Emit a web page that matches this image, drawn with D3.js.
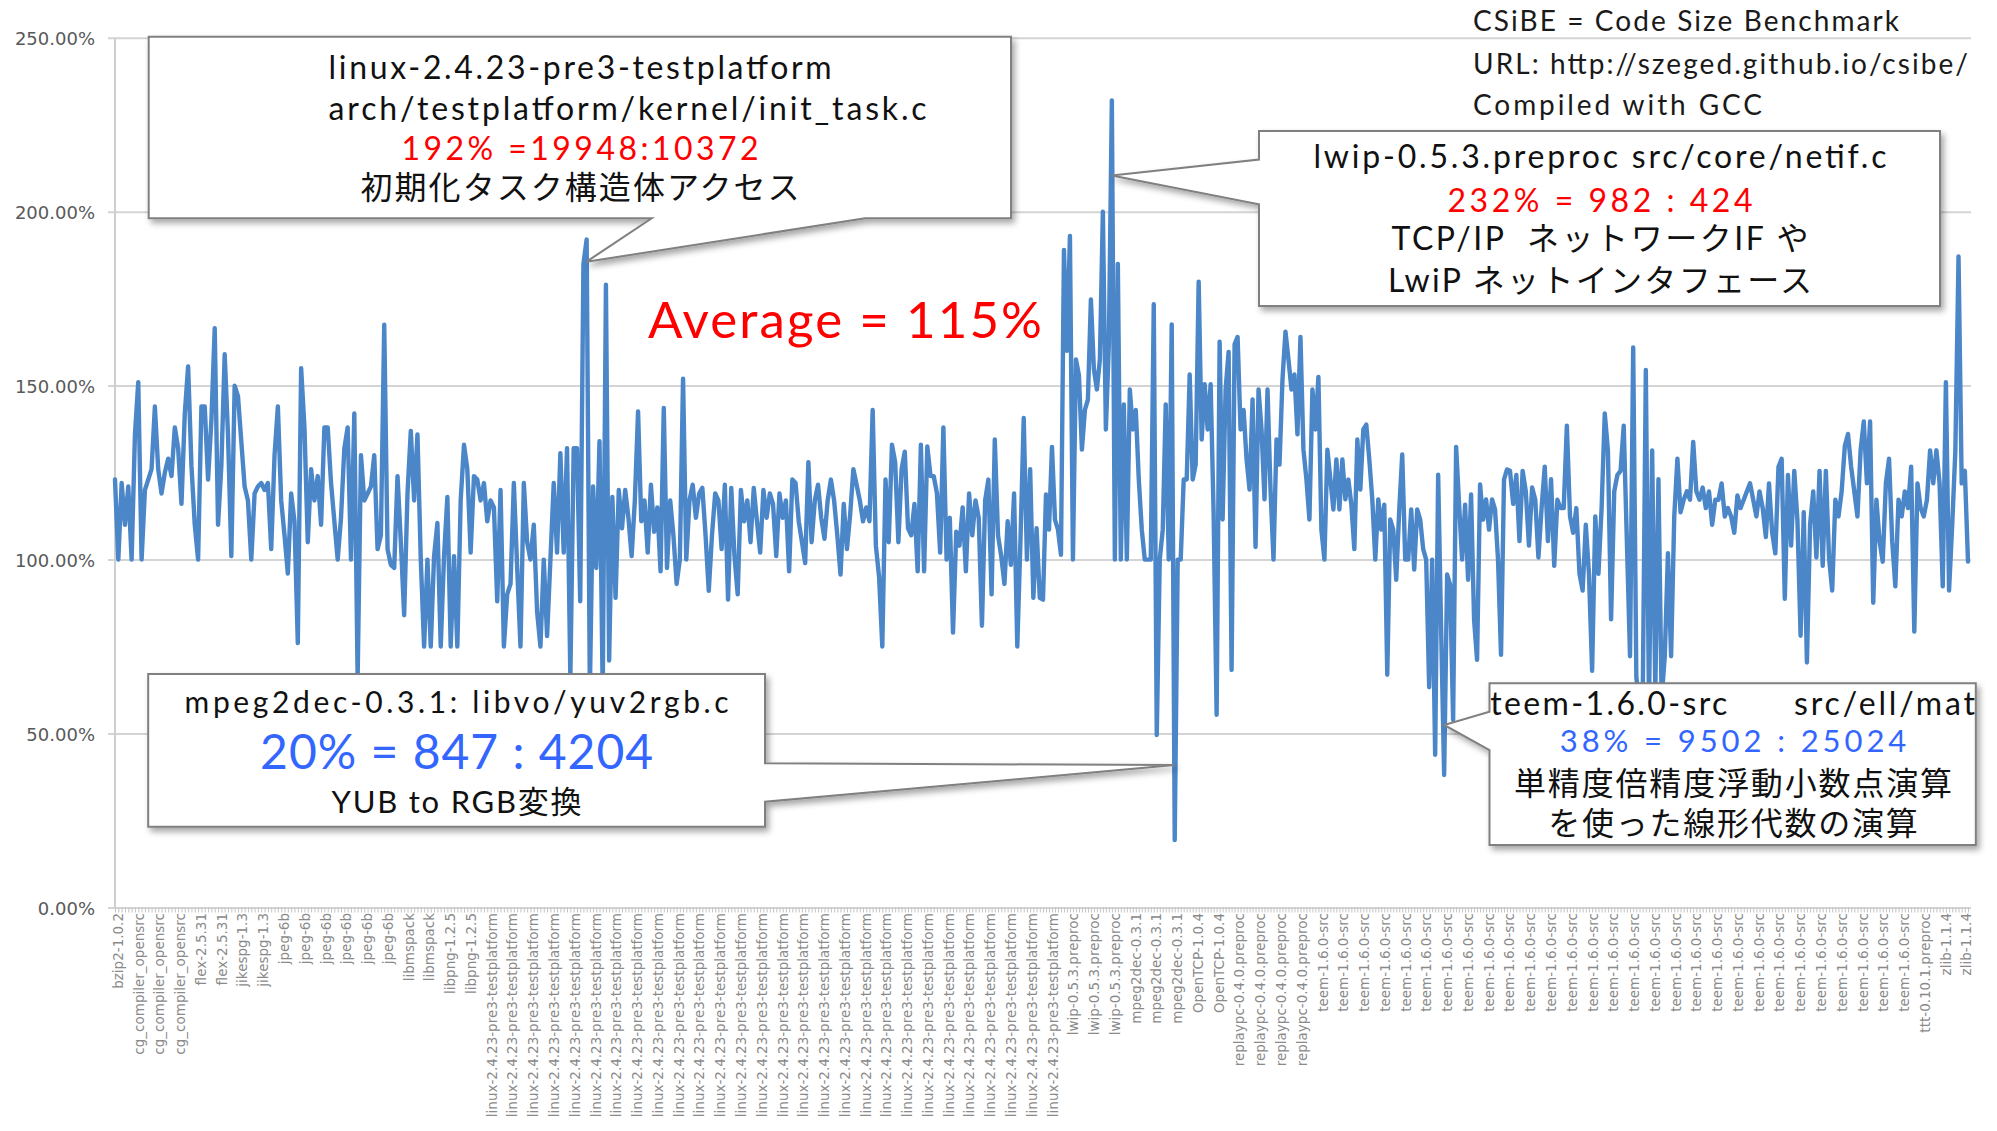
<!DOCTYPE html>
<html><head><meta charset="utf-8">
<script src="https://cdn.jsdelivr.net/npm/d3@7"></script>
<style>body{margin:0;background:#fff;} svg{display:block;} text{white-space:pre;}</style>
</head><body>
<svg id="chart" width="1997" height="1131"></svg>
<script>
// ---------------- DATA ----------------
const yTicks = [0, 50, 100, 150, 200, 250];
const yTickLabels = ["0.00%", "50.00%", "100.00%", "150.00%", "200.00%", "250.00%"];

const xLabels = [
  "bzip2-1.0.2",
  "cg_compiler_opensrc","cg_compiler_opensrc","cg_compiler_opensrc",
  "flex-2.5.31","flex-2.5.31",
  "jikespg-1.3","jikespg-1.3",
  "jpeg-6b","jpeg-6b","jpeg-6b","jpeg-6b","jpeg-6b","jpeg-6b",
  "libmspack","libmspack",
  "libpng-1.2.5","libpng-1.2.5",
  "linux-2.4.23-pre3-testplatform","linux-2.4.23-pre3-testplatform","linux-2.4.23-pre3-testplatform","linux-2.4.23-pre3-testplatform",
  "linux-2.4.23-pre3-testplatform","linux-2.4.23-pre3-testplatform","linux-2.4.23-pre3-testplatform","linux-2.4.23-pre3-testplatform",
  "linux-2.4.23-pre3-testplatform","linux-2.4.23-pre3-testplatform","linux-2.4.23-pre3-testplatform","linux-2.4.23-pre3-testplatform",
  "linux-2.4.23-pre3-testplatform","linux-2.4.23-pre3-testplatform","linux-2.4.23-pre3-testplatform","linux-2.4.23-pre3-testplatform",
  "linux-2.4.23-pre3-testplatform","linux-2.4.23-pre3-testplatform","linux-2.4.23-pre3-testplatform","linux-2.4.23-pre3-testplatform",
  "linux-2.4.23-pre3-testplatform","linux-2.4.23-pre3-testplatform","linux-2.4.23-pre3-testplatform","linux-2.4.23-pre3-testplatform",
  "linux-2.4.23-pre3-testplatform","linux-2.4.23-pre3-testplatform","linux-2.4.23-pre3-testplatform","linux-2.4.23-pre3-testplatform",
  "lwip-0.5.3.preproc","lwip-0.5.3.preproc","lwip-0.5.3.preproc",
  "mpeg2dec-0.3.1","mpeg2dec-0.3.1","mpeg2dec-0.3.1",
  "OpenTCP-1.0.4","OpenTCP-1.0.4",
  "replaypc-0.4.0.preproc","replaypc-0.4.0.preproc","replaypc-0.4.0.preproc","replaypc-0.4.0.preproc",
  "teem-1.6.0-src","teem-1.6.0-src","teem-1.6.0-src","teem-1.6.0-src","teem-1.6.0-src","teem-1.6.0-src",
  "teem-1.6.0-src","teem-1.6.0-src","teem-1.6.0-src","teem-1.6.0-src","teem-1.6.0-src","teem-1.6.0-src",
  "teem-1.6.0-src","teem-1.6.0-src","teem-1.6.0-src","teem-1.6.0-src","teem-1.6.0-src","teem-1.6.0-src",
  "teem-1.6.0-src","teem-1.6.0-src","teem-1.6.0-src","teem-1.6.0-src","teem-1.6.0-src","teem-1.6.0-src",
  "teem-1.6.0-src","teem-1.6.0-src","teem-1.6.0-src","teem-1.6.0-src","teem-1.6.0-src",
  "ttt-0.10.1.preproc",
  "zlib-1.1.4","zlib-1.1.4"
];

// Size ratio (%) per file, in four stretches
const seriesA = [123,100,122,110,121,100,136,151,100,120,
  123,126,144,126,119,125,129,124,138,132,
  116,142,155.5,127,110,100,144,144,123,140,
  166.5,110,127,159,136,101,150,147,134,121,
  117,100,119,121,122,120,122,103,130,144,
  117,107,96,119,111,76,155,138,105,126,
  117,124,110,138,138,122,111,100,112,132,
  138,100,142,66,130,117,119,121,130,103,
  107,167.5,103,98.5,97.6,124,105,84,119,137,
  117,136,100,75,100,75,101,110.5,75,101,
  118,75,101,75,117,133,126,102,124,123,
  117,122,111,117,115,88,120,75,90,93,
  122,97.6,75,122,105,100,110,85,75,100,
  78,100,122,102,130.6,102,132,66,132];
const seriesB = [132,88,185,192,62,121,97.6,134,62,179,
  71,118,89,120,109,120,112,101,117,142.6,
  111,117,102,121.5,108,115,96.6,143.6,97.6,117,
  107,93,100,152,100,117,121.5,112,119,120.6,
  107,91,107,119,117,103,121.5,88.5,120.6,101,
  90,120,111,117,105,120.6,111,102,120,112,
  119,116,101,119,112,117,96.6,123,122,111,
  105,99,128,105,117,121.5,112,106,117,123,
  117,107,95.7,116,103,113,126,121.5,117,111,
  115,111,143,104,95,75,123,105,133,128,
  105,126,131,109,107,116,96.6,133,96.6,132.5,
  124,124,119,102,138,100,112,79,108,104,
  115,96.6,119,107,117,112,81,117,123,90,
  134.5,107,101,93,111,98.5,119,75,106,140.7,
  100,126,89,109,89];
const seriesC = [88.5,118.7,108.6,132.4,111.5,108.6,101.4,189,160,193,
  100,157.5,153,131.6,143,146,174.8,154.7,148.9,157.5,
  200,137.4,161.9,232,100,185,100,144.6,100,148.9,
  137.4,143,123,108.6,100,100,100,173.4,49.6,100,
  108.6,144.6,100,167.6,19.4,100,100,123,123,153.2,
  123,127.3,179.9,134.5,150.4,137.4,150.4,113,55.4,162.6,
  111.5,148.9,159.7,68.3,161.9,164,137.4,143,128.8,120.1,
  146,103.6,148.9,137.4,117.3,148.9,120.1,100,134.5,127.3,
  151.8,165.5,157.5,148.9,153.2,136,164,131.6,123,111.5,
  148.9,137.4,152.5,108.6,100,131.6,123,114.4,128.8,114.4,
  128.8,117.3,123,115.8,103,134.5,120.1,137.4,138.8,128.8,
  117.3,100,117.3,108.6,115.8,66.9,111.5,108.6,94.2,114.4,
  130.2,100,100,114.4,97.1,114.4,111.5,103,100,63.3,
  100,43.9,124.4,79.8,38.1,95.7,92.8,53.9,132.4,115.8,
  100,115.8,94.2,118.7,82.7,71.2,121.6,111.5,117.3,108.6,
  117.3,114.4,100,72.6,123,125.9];
const seriesD = [125.5,116,124.3,105.3,125.5,119.6,104,120.7,117.2,100.6,
  114.8,126.7,105.3,123.1,98.2,117.2,114.8,114.8,138.5,112.4,
  107.7,114.8,95.9,91.1,110,95.9,68,112.4,95.9,114.8,
  142,131.4,82.8,119.6,124.3,125.5,138.5,105.3,72.2,161,
  66.2,58,58,154.5,58,131.4,62,123.1,60,72.2,
  101.8,72.2,112.4,129,113.6,117.2,119.6,117.2,133.8,119.6,
  117.2,120.7,114.8,119.6,110,117.2,117.2,121.9,112.4,114.8,
  112.4,107.7,118.4,114.8,117.2,119.6,121.9,117.2,112.4,119.6,
  114.8,106.5,121.9,107.7,101.8,126.7,129,88.7,124.3,104,
  125.5,111.3,78.1,113.6,70.4,110,119.6,100.6,125.5,98.2,
  125.5,100.6,91.1,117.2,112.4,119.6,132.6,136.1,126.7,119.6,
  112.4,131.4,139.7,121.9,139.7,87.6,117.2,105.3,99.4,121.9,
  129,105.3,92.3,117.2,112.4,119.6,114.8,126.7,79.3,121.9,
  114.8,112.4,117.2,131.4,121.9,131.4,121.9,92.3,151,91.1,
  110,131.4,187.1,121.9,125.5,99.4];

const averageLevel = 128.7;           // where the dashed line is drawn
const averageLabel = "Average = 115%";
const notes = ["CSiBE = Code Size Benchmark", "URL: http://szeged.github.io/csibe/", "Compiled with GCC"];

const callout1Lines = ["linux-2.4.23-pre3-testplatform", "arch/testplatform/kernel/init_task.c", "192% =19948:10372", "初期化タスク構造体アクセス"];
const callout2Lines = ["lwip-0.5.3.preproc src/core/netif.c", "232% = 982 : 424", "TCP/IP  ネットワークIF や", "LwiP ネットインタフェース"];
const callout3Lines = ["mpeg2dec-0.3.1: libvo/yuv2rgb.c", "20% = 847 : 4204", "YUB to RGB変換"];
const callout4Lines = ["teem-1.6.0-src", "src/ell/mat", "38% = 9502 : 25024", "単精度倍精度浮動小数点演算", "を使った線形代数の演算"];
const calloutTargets = [192, 232, 19.4, 38.1];

// ---------------- CHART ----------------
const values = [...seriesA, ...seriesB, ...seriesC, ...seriesD];
const N = values.length;
const bA = seriesA.length, bB = bA + seriesB.length, bC = bB + seriesC.length;

const FONT = "Lato, 'Noto Sans CJK JP', sans-serif";

const svg = d3.select("#chart");
const defs = svg.append("defs");
const sh = defs.append("filter").attr("id","shadow").attr("x","-10%").attr("y","-10%").attr("width","130%").attr("height","140%");
sh.append("feDropShadow").attr("dx",3).attr("dy",4).attr("stdDeviation",3).attr("flood-color","#000").attr("flood-opacity",0.35);
const sh2 = defs.append("filter").attr("id","lshadow").attr("x","0").attr("y","-200%").attr("width","100%").attr("height","500%");
sh2.append("feDropShadow").attr("dx",0).attr("dy",3).attr("stdDeviation",2).attr("flood-color","#000").attr("flood-opacity",0.35);

const y = d3.scaleLinear().domain([0, 250]).range([907.5, 37.7]);
const x = d3.scaleLinear().domain([0, bA, bB, bC, N - 1]).range([115, 577, 1043, 1510, 1968]);
const xl = d3.scalePoint().domain(d3.range(xLabels.length)).range([118, 1966.5]);

// y axis with gridlines
const yAxis = svg.append("g").attr("transform", "translate(115,0)")
  .call(d3.axisLeft(y).tickValues(yTicks).tickFormat((d, i) => yTickLabels[i])
    .tickSizeInner(-(1971 - 115)).tickSizeOuter(0).tickPadding(20));
yAxis.select(".domain").remove();
yAxis.selectAll(".tick line").attr("x1", -7).attr("stroke", "#d4d4d4").attr("stroke-width", 2);
yAxis.selectAll(".tick text").attr("font-family", "'DejaVu Sans', sans-serif").attr("font-size", 18)
  .attr("fill", "#595959").attr("dy", "0.4em");
svg.append("line").attr("x1", 115).attr("x2", 115).attr("y1", y(250)).attr("y2", y(0))
  .attr("stroke", "#cfcfcf").attr("stroke-width", 2);

// x axis ticks per file
const xAxis = svg.append("g").attr("transform", `translate(0,${y(0)})`)
  .call(d3.axisBottom(x).tickValues(d3.range(N)).tickFormat("").tickSize(5));
xAxis.select(".domain").remove();
xAxis.selectAll(".tick line").attr("stroke", "#c4c4c4").attr("stroke-width", 1);

// x labels
svg.append("g").selectAll("text").data(xLabels).join("text")
  .attr("transform", (d, i) => `translate(${xl(i)},913) rotate(-90)`)
  .attr("text-anchor", "end").attr("dy", "0.36em")
  .attr("font-family", "'DejaVu Sans', sans-serif").attr("font-size", 13.5).attr("fill", "#8a8a8a")
  .text(d => d);

// data line
svg.append("path").datum(values)
  .attr("fill", "none").attr("stroke", "#4a86c8").attr("stroke-width", 4.4)
  .attr("stroke-linejoin", "round").attr("stroke-linecap", "round")
  .attr("d", d3.line().x((d, i) => x(i)).y(d => y(d)));

// average dashed line
svg.append("line").attr("x1", 10).attr("x2", 1997).attr("y1", y(averageLevel)).attr("y2", y(averageLevel))
  .attr("stroke", "#ff0000").attr("stroke-width", 5.5).attr("stroke-dasharray", "15,7")
  .attr("filter", "url(#lshadow)");

function addText(g, str, px, py, size, color, anchor, width, family) {
  const t = g.append("text").attr("x", px).attr("y", py).attr("font-size", size)
    .attr("fill", color).attr("text-anchor", anchor)
    .attr("font-family", family || FONT).text(str);
  if (width) t.attr("textLength", width).attr("lengthAdjust", "spacing");
  return t;
}

addText(svg, averageLabel, 648, 338, 51, "#ff0000", "start", 394, "Lato, 'DejaVu Sans', sans-serif");

// notes top-right
const noteBase = [30.7, 74, 115], noteW = [426, 495, 289];
notes.forEach((s, i) => addText(svg, s, 1473, noteBase[i], 28, "#1a1a1a", "start", noteW[i]));

// callouts
const tip = calloutTargets.map(v => x(values.indexOf(v)));
const cg = svg.append("g");
function box(d) {
  cg.append("path").attr("d", d).attr("fill", "#fff").attr("stroke", "#808080")
    .attr("stroke-width", 2).attr("filter", "url(#shadow)");
}
box(`M148.7,36.7H1011V218.3H865L${tip[0]},261.7L651.7,218.3H148.7Z`);
box(`M1259,131H1940V306H1259V204.3L${tip[1]},175.5L1259,159.5Z`);
box(`M148.2,674H765V763.3L${tip[2]},765L765,801.7V826.7H148.2Z`);
box(`M1489.5,683.3H1975.8V845H1489.5V750L${tip[3]},725L1489.5,711.7Z`);

// callout 1: first two lines share a left edge, the others are centred
addText(cg, callout1Lines[0], 328.6, 79, 32, "#111", "start", 503);
addText(cg, callout1Lines[1], 328.6, 120, 32, "#111", "start", 598);
addText(cg, callout1Lines[2], 580, 160, 32, "#ff0000", "middle", 357);
addText(cg, callout1Lines[3], 580, 199, 32, "#111", "middle", 439);

const c2b = [168.3, 211.7, 250, 291.7], c2w = [573, 305, 417, 424], c2c = ["#111", "#ff0000", "#111", "#111"];
callout2Lines.forEach((s, i) => addText(cg, s, 1600, c2b[i], 32, c2c[i], "middle", c2w[i]));
const c3b = [713.3, 769.3, 813.3], c3w = [544, 393, 250], c3s = [30, 48, 31], c3c = ["#111", "#3366ff", "#111"];
callout3Lines.forEach((s, i) => addText(cg, s, 456.6, c3b[i], c3s[i], c3c[i], "middle", c3w[i]));
addText(cg, callout4Lines[0], 1490.3, 715, 32, "#111", "start", 237);
addText(cg, callout4Lines[1], 1975, 715, 32, "#111", "end", 181);
addText(cg, callout4Lines[2], 1733, 751.7, 31, "#3366ff", "middle", 346.5);
addText(cg, callout4Lines[3], 1733, 795, 32, "#111", "middle", 438);
addText(cg, callout4Lines[4], 1733, 835, 32, "#111", "middle", 369.5);
</script>
</body></html>
